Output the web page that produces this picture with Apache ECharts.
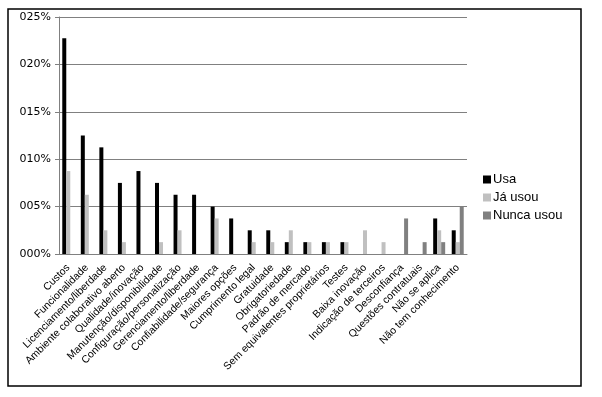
<!DOCTYPE html>
<html>
<head>
<meta charset="utf-8">
<script src="https://cdn.jsdelivr.net/npm/echarts@6/dist/echarts.min.js"></script>
<style>
    html, body { margin: 0; padding: 0; background: #fff; }
    #chart { width: 602px; height: 397px; }
</style>
</head>
<body>
<div id="chart"></div>
<script>
// categorias (eixo x)
var categorias = [
    'Custos', 'Funcionalidade', 'Licenciamento/liberdade', 'Ambiente colaborativo aberto',
    'Qualidade/inovação', 'Manutenção/disponibilidade', 'Configuração/personalização',
    'Gerenciamento/liberdade', 'Confiabilidade/segurança', 'Maiores opções',
    'Cumprimento legal', 'Gratuidade', 'Obrigatoriedade', 'Padrão de mercado',
    'Sem equivalentes proprietários', 'Testes', 'Baixa inovação', 'Indicação de terceiros',
    'Desconfiança', 'Questões contratuais', 'Não se aplica', 'Não tem conhecimento'
];
// valores
var usa       = [22.75, 12.5, 11.25, 7.5, 8.75, 7.5, 6.25, 6.25, 5, 3.75, 2.5, 2.5, 1.25, 1.25, 1.25, 1.25, 0, 0, 0, 0, 3.75, 2.5];
var jaUsou    = [8.75, 6.25, 2.5, 1.25, 0, 1.25, 2.5, 0, 3.75, 0, 1.25, 1.25, 2.5, 1.25, 1.25, 1.25, 2.5, 1.25, 0, 0, 2.5, 1.25];
var nuncaUsou = [0, 0, 0, 0, 0, 0, 0, 0, 0, 0, 0, 0, 0, 0, 0, 0, 0, 0, 3.75, 1.25, 1.25, 5];
var yTicks = [0, 5, 10, 15, 20, 25];

var chart = echarts.init(document.getElementById('chart'));

let serie = (nome, dados, cor) => ({
    name: nome,
    type: 'bar',
    data: dados,
    barWidth: 4,
    barGap: '0%',
    barCategoryGap: '35%',
    itemStyle: { color: cor },
    animation: false
});

chart.setOption({
    animation: false,
    graphic: [{
        type: 'rect',
        shape: { x: 8, y: 9, width: 573, height: 377 },
        style: { fill: 'none', stroke: '#000', lineWidth: 1.5 }
    }],
    grid: { left: 59, right: 135, top: 17, bottom: 143 },
    legend: {
        orient: 'vertical',
        left: 478,
        top: 168,
        itemWidth: 8,
        itemHeight: 8,
        itemGap: 5,
        icon: 'rect',
        textStyle: { fontFamily: 'Liberation Sans', fontSize: 13, color: '#000', padding: [0, 0, 0, -3] },
        data: ['Usa', 'Já usou', 'Nunca usou']
    },
    xAxis: {
        type: 'category',
        data: categorias,
        axisLine: { lineStyle: { color: '#808080' } },
        axisTick: { lineStyle: { color: '#808080' }, length: 4 },
        axisLabel: {
            interval: 0,
            rotate: 45,
            margin: 12,
            fontFamily: 'Liberation Sans',
            fontSize: 10.5,
            color: '#000'
        }
    },
    yAxis: {
        type: 'value',
        min: 0,
        max: 25,
        interval: 5,
        axisLine: { show: true, lineStyle: { color: '#808080' } },
        axisTick: { show: true, inside: false, length: 4, lineStyle: { color: '#808080' } },
        splitLine: { lineStyle: { color: '#808080' } },
        axisLabel: {
            margin: 8,
            fontFamily: 'DejaVu Sans',
            fontSize: 11,
            color: '#000',
            formatter: function (v) {
                return yTicks.indexOf(v) >= 0 ? String(v).padStart(3, '0') + '%' : '';
            }
        }
    },
    series: [
        serie('Usa', usa, '#000000'),
        serie('Já usou', jaUsou, '#c0c0c0'),
        serie('Nunca usou', nuncaUsou, '#808080')
    ]
});
</script>
</body>
</html>
